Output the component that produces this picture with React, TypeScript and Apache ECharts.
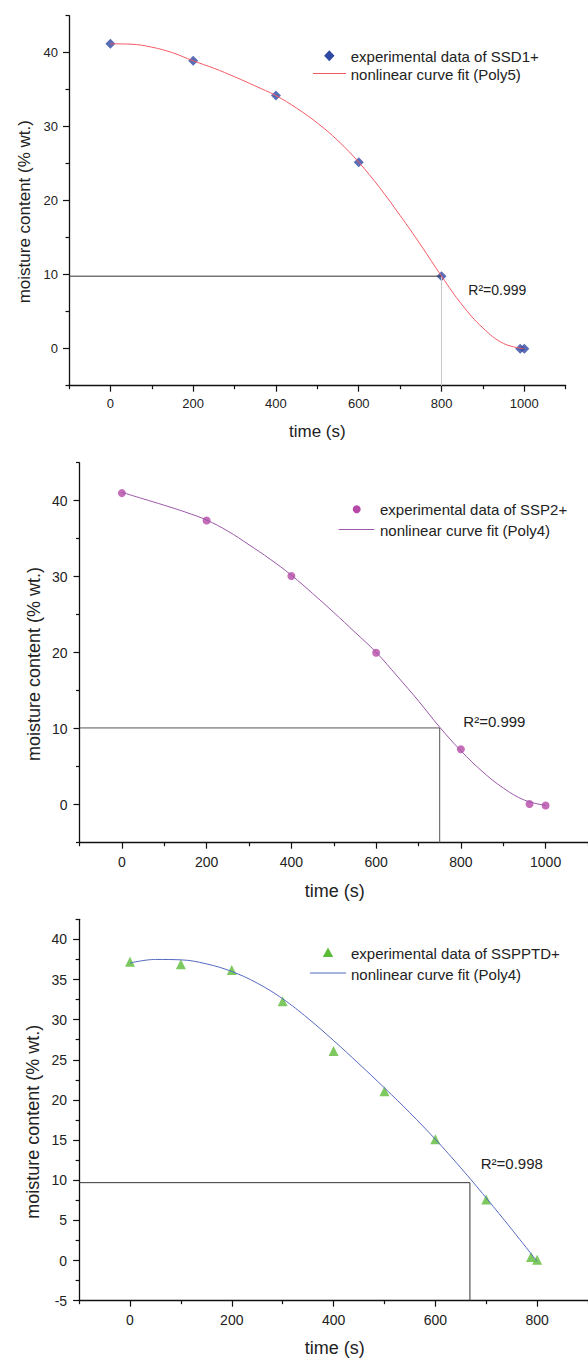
import React, { useEffect, useRef } from "react";
import * as echarts from "echarts";

const FONT = "'Liberation Sans', Arial, Helvetica, sans-serif";

// ---------- Panel 1 (SSD1+) ----------
const p1Time = [0, 200, 400, 600, 800, 990, 1000];
const p1Moist = [41.2, 38.9, 34.2, 25.2, 9.8, 0, 0];
const p1FitTime = [0, 50, 100, 150, 200, 250, 300, 350, 400, 450, 500, 550, 600, 650, 700, 750, 800, 850, 900, 950, 1000];
const p1FitMoist = [41.2, 41.15, 40.75, 40.0, 38.9, 37.9, 36.75, 35.5, 34.2, 32.5, 30.5, 28.1, 25.2, 21.8, 18.0, 14.0, 9.8, 5.9, 2.8, 0.7, 0.0];
const p1Guide = [800, 9.8];
const p1XTicks = [0, 200, 400, 600, 800, 1000];
const p1XMinor = [-100, 100, 300, 500, 700, 900, 1100];
const p1YTicks = [0, 10, 20, 30, 40];
const p1YMinor = [-5, 5, 15, 25, 35, 45];

// ---------- Panel 2 (SSP2+) ----------
const p2Time = [0, 200, 400, 600, 800, 962, 1000];
const p2Moist = [41.0, 37.4, 30.1, 20.0, 7.3, 0.1, -0.1];
const p2FitTime = [0, 50, 100, 150, 200, 250, 300, 350, 400, 450, 500, 550, 600, 650, 700, 750, 800, 850, 900, 950, 1000];
const p2FitMoist = [41.1, 40.25, 39.4, 38.5, 37.45, 36.0, 34.2, 32.3, 30.2, 27.8, 25.3, 22.7, 20.05, 16.9, 13.65, 10.2, 7.1, 4.4, 2.2, 0.6, -0.1];
const p2Guide = [750, 10.1];
const p2XTicks = [0, 200, 400, 600, 800, 1000];
const p2XMinor = [-100, 100, 300, 500, 700, 900, 1100];
const p2YTicks = [0, 10, 20, 30, 40];
const p2YMinor = [-5, 5, 15, 25, 35, 45];

// ---------- Panel 3 (SSPPTD+) ----------
const p3Time = [0, 100, 200, 300, 400, 500, 600, 700, 788, 800];
const p3Moist = [37.2, 36.9, 36.2, 32.3, 26.1, 21.1, 15.1, 7.6, 0.45, 0.1];
const p3FitTime = [0, 50, 100, 150, 200, 250, 300, 350, 400, 450, 500, 550, 600, 650, 700, 750, 800];
const p3FitMoist = [37.05, 37.5, 37.45, 36.95, 36.0, 34.55, 32.6, 30.15, 27.4, 24.5, 21.5, 18.4, 15.1, 11.55, 7.8, 3.9, -0.1];
const p3Guide = [668, 9.7];
const p3XTicks = [0, 200, 400, 600, 800];
const p3XMinor = [-100, 100, 300, 500, 700, 900];
const p3YTicks = [-5, 0, 5, 10, 15, 20, 25, 30, 35, 40];
const p3YMinor = [-2.5, 2.5, 7.5, 12.5, 17.5, 22.5, 27.5, 32.5, 37.5, 42.5];

const legendTexts = [
  ["experimental data of SSD1+", "nonlinear curve fit (Poly5)"],
  ["experimental data of SSP2+", "nonlinear curve fit (Poly4)"],
  ["experimental data of SSPPTD+", "nonlinear curve fit (Poly4)"],
];
const r2Texts = ["R²=0.999", "R²=0.999", "R²=0.998"];

const zip = (a: number[], b: number[]) => a.map((v, i) => [v, b[i]]);

type Panel = {
  grid: { left: number; top: number; width: number; height: number };
  xMin: number; xMax: number; yMin: number; yMax: number;
  xTicks: number[]; xMinor: number[]; yTicks: number[]; yMinor: number[];
  tickFont: number; xLabelMargin: number; yLabelMargin: number;
  time: number[]; moist: number[]; fitTime: number[]; fitMoist: number[];
  guide: number[]; guideH: string; guideV: string;
  symbol: string; symbolSize: number; markerColor: string; lineColor: string;
};

const panels: Panel[] = [
  {
    grid: { left: 69, top: 15.7, width: 496.7, height: 370 },
    xMin: -100, xMax: 1100, yMin: -5, yMax: 45,
    xTicks: p1XTicks, xMinor: p1XMinor, yTicks: p1YTicks, yMinor: p1YMinor,
    tickFont: 13, xLabelMargin: 11, yLabelMargin: 11,
    time: p1Time, moist: p1Moist, fitTime: p1FitTime, fitMoist: p1FitMoist,
    guide: p1Guide, guideH: "#333333", guideV: "#c8c8c8",
    symbol: "diamond", symbolSize: 10, markerColor: "#2f48a4", lineColor: "#f25a66",
  },
  {
    grid: { left: 79.5, top: 462.7, width: 511.8, height: 380 },
    xMin: -100, xMax: 1100, yMin: -5, yMax: 45,
    xTicks: p2XTicks, xMinor: p2XMinor, yTicks: p2YTicks, yMinor: p2YMinor,
    tickFont: 14, xLabelMargin: 12, yLabelMargin: 12,
    time: p2Time, moist: p2Moist, fitTime: p2FitTime, fitMoist: p2FitMoist,
    guide: p2Guide, guideH: "#555555", guideV: "#555555",
    symbol: "circle", symbolSize: 8, markerColor: "#b649a8", lineColor: "#9b58a8",
  },
  {
    grid: { left: 79.1, top: 919.3, width: 512, height: 381.4 },
    xMin: -100, xMax: 900, yMin: -5, yMax: 42.5,
    xTicks: p3XTicks, xMinor: p3XMinor, yTicks: p3YTicks, yMinor: p3YMinor,
    tickFont: 14, xLabelMargin: 12, yLabelMargin: 12,
    time: p3Time, moist: p3Moist, fitTime: p3FitTime, fitMoist: p3FitMoist,
    guide: p3Guide, guideH: "#333333", guideV: "#333333",
    symbol: "triangle", symbolSize: 10, markerColor: "#5cbc38", lineColor: "#5568c0",
  },
];

const AXIS_COLOR = "#111111";
const TEXT_COLOR = "#222222";
const plain = (v: number) => String(v);

function buildOption() {
  const grid: any[] = [];
  const xAxis: any[] = [];
  const yAxis: any[] = [];
  const series: any[] = [];

  panels.forEach((p, i) => {
    grid.push({ ...p.grid, containLabel: false });
    const common = { type: "value", gridIndex: i, splitLine: { show: false } };
    xAxis.push({
      ...common, position: "bottom", min: p.xMin, max: p.xMax,
      axisLine: { show: true, onZero: false, lineStyle: { color: AXIS_COLOR, width: 1.3 } },
      axisTick: { show: true, length: 6, customValues: p.xTicks, lineStyle: { color: AXIS_COLOR, width: 1.2 } },
      axisLabel: { show: true, customValues: p.xTicks, formatter: plain, margin: p.xLabelMargin, fontSize: p.tickFont, color: TEXT_COLOR, fontFamily: FONT },
    });
    xAxis.push({
      ...common, position: "bottom", min: p.xMin, max: p.xMax,
      axisLine: { show: false, onZero: false },
      axisTick: { show: true, length: 3.5, customValues: p.xMinor, lineStyle: { color: AXIS_COLOR, width: 1.2 } },
      axisLabel: { show: false },
    });
    yAxis.push({
      ...common, position: "left", min: p.yMin, max: p.yMax,
      axisLine: { show: true, onZero: false, lineStyle: { color: AXIS_COLOR, width: 1.3 } },
      axisTick: { show: true, length: 6, customValues: p.yTicks, lineStyle: { color: AXIS_COLOR, width: 1.2 } },
      axisLabel: { show: true, customValues: p.yTicks, formatter: plain, margin: p.yLabelMargin, fontSize: p.tickFont, color: TEXT_COLOR, fontFamily: FONT },
    });
    yAxis.push({
      ...common, position: "left", min: p.yMin, max: p.yMax,
      axisLine: { show: false, onZero: false },
      axisTick: { show: true, length: 3.5, customValues: p.yMinor, lineStyle: { color: AXIS_COLOR, width: 1.2 } },
      axisLabel: { show: false },
    });

    const xi = 2 * i;
    const yi = 2 * i;
    series.push({
      type: "line", xAxisIndex: xi, yAxisIndex: yi, silent: true, symbol: "none",
      data: [[p.xMin, p.guide[1]], [p.guide[0], p.guide[1]]],
      lineStyle: { color: p.guideH, width: 1 },
    });
    series.push({
      type: "line", xAxisIndex: xi, yAxisIndex: yi, silent: true, symbol: "none",
      data: [[p.guide[0], p.guide[1]], [p.guide[0], p.yMin]],
      lineStyle: { color: p.guideV, width: 1 },
    });
    series.push({
      type: "line", name: legendTexts[i][1], xAxisIndex: xi, yAxisIndex: yi, silent: true,
      symbol: "none", smooth: 0.4,
      data: zip(p.fitTime, p.fitMoist),
      lineStyle: { color: p.lineColor, width: 1 },
    });
    series.push({
      type: "scatter", name: legendTexts[i][0], xAxisIndex: xi, yAxisIndex: yi, silent: true,
      symbol: p.symbol, symbolSize: p.symbolSize,
      itemStyle: { color: p.markerColor },
      data: zip(p.time, p.moist),
    });
  });

  const txt = (x: number, y: number, text: string, size: number, extra: any = {}) => ({
    type: "text", x, y, silent: true, ...extra,
    style: { text, fill: TEXT_COLOR, fontSize: size, fontFamily: FONT, align: "left", verticalAlign: "middle", ...(extra.style || {}) },
  });

  const graphic: any[] = [
    // Panel 1 legend
    { type: "polygon", silent: true, shape: { points: [[329.3, 50.2], [334.5, 55.7], [329.3, 61.2], [324.1, 55.7]] }, style: { fill: panels[0].markerColor } },
    { type: "line", silent: true, shape: { x1: 313, y1: 73.5, x2: 346, y2: 73.5 }, style: { stroke: panels[0].lineColor, lineWidth: 1 } },
    txt(350.7, 56, legendTexts[0][0], 15),
    txt(350.7, 74.5, legendTexts[0][1], 15),
    txt(468.3, 290, r2Texts[0], 14),
    // Panel 2 legend
    { type: "circle", silent: true, shape: { cx: 356.7, cy: 509.3, r: 4 }, style: { fill: panels[1].markerColor } },
    { type: "line", silent: true, shape: { x1: 338.7, y1: 529.5, x2: 374.3, y2: 529.5 }, style: { stroke: panels[1].lineColor, lineWidth: 1 } },
    txt(380, 509.8, legendTexts[1][0], 15),
    txt(380, 530.3, legendTexts[1][1], 15),
    txt(463.3, 721.7, r2Texts[1], 15),
    // Panel 3 legend
    { type: "polygon", silent: true, shape: { points: [[328, 947.5], [333.2, 957], [322.8, 957]] }, style: { fill: panels[2].markerColor } },
    { type: "line", silent: true, shape: { x1: 310, y1: 973, x2: 346, y2: 973 }, style: { stroke: panels[2].lineColor, lineWidth: 1 } },
    txt(351, 953.5, legendTexts[2][0], 15),
    txt(351, 974.3, legendTexts[2][1], 15),
    txt(480.7, 1163.3, r2Texts[2], 15),
    // Axis titles
    txt(24.4, 211.7, "moisture content (% wt.)", 17, { rotation: Math.PI / 2, style: { align: "center" } }),
    txt(317.3, 431, "time (s)", 17, { style: { align: "center" } }),
    txt(33.7, 664, "moisture content (% wt.)", 18, { rotation: Math.PI / 2, style: { align: "center" } }),
    txt(334.8, 890.7, "time (s)", 18, { style: { align: "center" } }),
    txt(33, 1121.7, "moisture content (% wt.)", 18, { rotation: Math.PI / 2, style: { align: "center" } }),
    txt(334.8, 1348.3, "time (s)", 18, { style: { align: "center" } }),
  ];

  return {
    animation: false,
    backgroundColor: "#ffffff",
    textStyle: { fontFamily: FONT },
    grid,
    xAxis,
    yAxis,
    series,
    graphic,
  };
}

export default function App() {
  const ref = useRef<HTMLDivElement>(null);
  useEffect(() => {
    if (!ref.current) return;
    const chart = echarts.init(ref.current, null, { renderer: "svg" });
    chart.setOption(buildOption() as any);
    return () => chart.dispose();
  }, []);
  return (
    <div
      ref={ref}
      style={{ position: "absolute", left: 0, top: 0, width: 588, height: 1360, background: "#ffffff" }}
    />
  );
}
